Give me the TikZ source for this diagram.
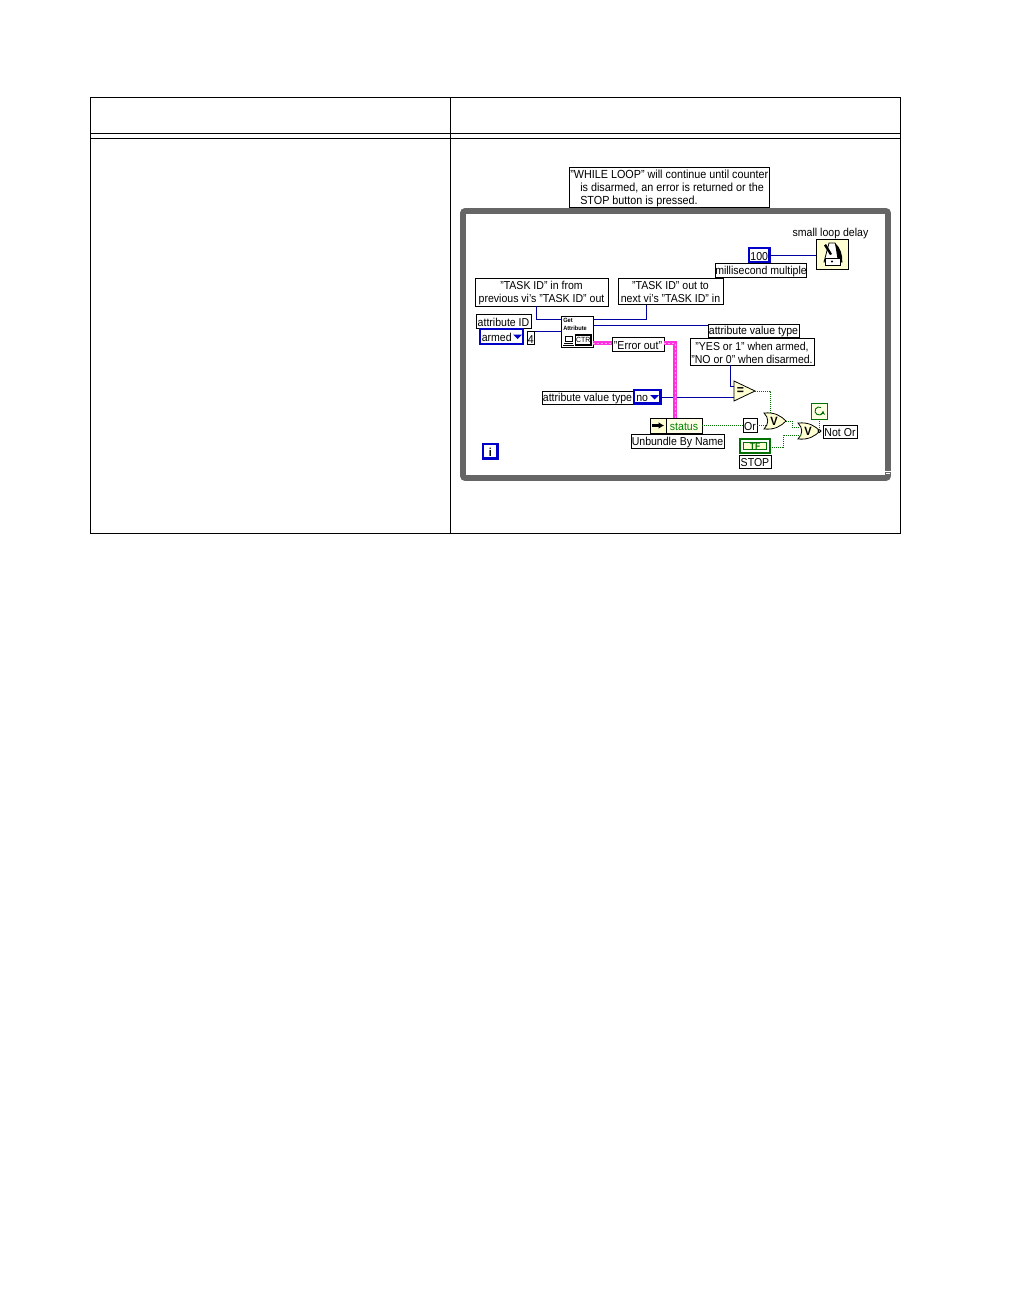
\documentclass[tikz,border=0pt]{standalone}
\usepackage{fontspec}
\setmainfont[FakeStretch=0.92]{Liberation Sans}
\usetikzlibrary{calc,arrows.meta}
\definecolor{wireblue}{HTML}{0000A0}
\definecolor{ctlblue}{HTML}{0000C8}
\definecolor{loopgray}{HTML}{666666}
\definecolor{pinkw}{HTML}{FF30E0}
\definecolor{greenw}{HTML}{007000}
\definecolor{iconyel}{HTML}{FFFFD2}
\definecolor{txtgreen}{HTML}{008000}
\tikzset{
  rule/.style={line width=0.7pt,black},
  lbl/.style={draw=black,line width=0.6pt,outer sep=0pt,fill=white,inner sep=0pt,align=center,
    font=\fontsize{8.6}{9.8}\selectfont},
  ctl/.style={lbl,draw=ctlblue,line width=1.8pt},
  freetext/.style={inner sep=0pt,font=\fontsize{8.6}{9.8}\selectfont},
  bwire/.style={draw=wireblue,line width=0.7pt},
  gwire/.style={draw=greenw,line width=0.6pt,dash pattern=on 0.75pt off 0.75pt},
  pwire/.style={draw=pinkw,line width=2.8pt},
  pcore/.style={draw=white!55!pinkw,line width=0.5pt,dash pattern=on 1.5pt off 1.5pt},
  gatefill/.style={fill=iconyel,draw=black,line width=0.6pt},
}
% name, x1, y1, x2, y2, style, text
\newcommand{\bx}[7]{\node[#6,minimum width={(#4-#2)*0.75pt},minimum height={(#5-#3)*0.75pt}] (#1) at ({(#2+#4)/2},{(#3+#5)/2}) {\rule{0pt}{7.9pt}#7};}
\newcommand{\orgate}[3]{% name, left x, centre y
  \node[inner sep=0pt,minimum width=16.5pt,minimum height=12pt] (#1) at (#2+11,#3) {};
  \draw[gatefill] (#2,#3-8) .. controls (#2+11,#3-9) and (#2+17,#3-5) .. (#2+22,#3)
    .. controls (#2+17,#3+5) and (#2+11,#3+9) .. (#2,#3+8)
    .. controls (#2+5,#3+3) and (#2+5,#3-3) .. (#2,#3-8) -- cycle;
  \node[inner sep=0pt,font=\fontsize{9}{9}\selectfont\bfseries] at (#2+10,#3) {V};
}
\begin{document}
\begin{tikzpicture}[x=0.75pt,y=-0.75pt]
\useasboundingbox[fill=white] (0,0) rectangle (1008,1296);
% table
\draw[rule] (90,97.5) -- (901,97.5);
\draw[rule] (90,133.5) -- (901,133.5);
\draw[rule] (90,138) -- (901,138);
\draw[rule] (90,533) -- (901,533);
\draw[rule] (90.5,97) -- (90.5,533.5);
\draw[rule] (450.5,97) -- (450.5,533.5);
\draw[rule] (900.5,97) -- (900.5,533.5);
% while loop frame
\draw[loopgray,line width=4.2pt,rounded corners=1.5pt] (463,211) rectangle (888,478);
\fill[white] (885,471) rectangle (891,472.2);
\draw[white,line width=0.6pt] (886,473.5) -- (890,473.5);
% note
\bx{note}{569.5}{167}{769}{207.5}{lbl,align=left,font=\fontsize{8.8}{9.8}\selectfont}{"WHILE LOOP" will continue until counter\\\hspace*{7.5pt}is disarmed, an error is returned or the\\\hspace*{7.5pt}STOP button is pressed.}
% boxes
\bx{tin}{475}{278}{608}{306}{lbl}{"TASK ID" in from\\previous vi's "TASK ID" out}
\bx{tout}{618}{278}{723}{304.5}{lbl}{"TASK ID" out to\\next vi's "TASK ID" in}
\bx{attid}{476}{314}{531}{328}{lbl}{attribute ID}
\bx{armed}{480}{329}{523}{344}{ctl}{}
\node[freetext,anchor=west] at (481.5,337.5) {armed};
\fill[ctlblue] (513,334.5) -- (522,334.5) -- (517.5,339) -- cycle;
\bx{four}{527}{331}{534.5}{344.5}{lbl}{4}
\bx{get}{561}{316}{593}{347}{lbl}{}
\node[inner sep=0pt,font=\fontsize{4.6}{5.8}\selectfont\bfseries,align=left,anchor=north west] at (563,318) {Get\\Attribute};
\draw[line width=0.6pt] (565,336) rectangle (572,341);
\draw[line width=0.6pt] (563,345) -- (574,345);
\draw[line width=0.6pt] (564,343) -- (573,343);
\draw[line width=0.8pt,fill=white] (575.5,335) rectangle (591,345);
\node[inner sep=0pt,font=\fontsize{5.6}{6}\selectfont] at (583.3,340) {CTR};
\bx{err}{612}{337}{664}{351}{lbl}{"Error out"}
\bx{ms}{716}{263}{806}{277}{lbl}{millisecond multiple}
\bx{hund}{749}{248}{769.5}{262}{ctl}{100}
\bx{metro}{816}{239}{848}{269}{lbl,fill=iconyel}{}
% metronome icon
\draw[fill=white,line width=0.6pt] (829,243) -- (835,243) -- (842,262) -- (824,262) -- cycle;
\fill (835,243) .. controls (840,247) and (843,255) .. (842,262) -- (838,262) -- cycle;
\fill (824,245.5) -- (826,244) -- (832,254) -- (830,255) -- cycle;
\draw[fill=white,line width=0.6pt] (825,258) rectangle (840,265);
\node[inner sep=0.6pt,fill=black,circle] at (832,261.5) {};
\node[freetext] (sld) at (830.5,233.5) {small loop delay};
\bx{avt}{708}{324}{799}{337.5}{lbl}{attribute value type}
\bx{yes}{690}{338}{814}{365}{lbl}{"YES or 1" when armed,\\"NO or 0" when disarmed.}
\bx{avtl}{542}{391}{633}{404}{lbl}{attribute value type}
\bx{no}{634}{390}{660.5}{403.5}{ctl}{}
\node[freetext,anchor=west] at (636,398.5) {no};
\fill[ctlblue] (650,395) -- (659,395) -- (654.5,399.5) -- cycle;
\bx{unb}{650}{418}{666}{433}{lbl,fill=iconyel}{}
\draw[line width=1.6pt,-{Latex[length=4pt,width=5pt]}] (unb.west)++(2,0) -- ++(12,0);
\bx{stat}{666}{418}{702}{433}{lbl,fill=iconyel!50!white,text=txtgreen}{status}
\bx{unbl}{631}{434}{724}{448}{lbl}{Unbundle By Name}
\bx{orl}{743}{418}{757}{432}{lbl}{Or}
\bx{tf}{740}{439}{770}{453}{lbl,draw=greenw,line width=1.8pt,fill=white}{}
\draw[greenw,line width=0.7pt,fill=iconyel] (743.5,442.5) rectangle (766.5,449.5);
\node[inner sep=0pt,text=greenw,font=\fontsize{7}{7}\selectfont\bfseries] at (755,446) {TF};
\bx{stop}{739}{455}{771}{468}{lbl}{STOP}
\bx{nor}{823}{425}{857}{438}{lbl}{Not Or}
\bx{lc}{811}{403}{827}{419}{lbl,draw=greenw,fill=iconyel!60!white}{}
\draw[greenw,line width=0.7pt,-{Stealth[length=3pt,width=3pt]}] (821,407.5) arc[start angle=-60,end angle=-360,radius=4];
\bx{iter}{483}{444}{497.5}{458.5}{ctl}{\textbf{i}}
% comparison
\node[inner sep=0pt,minimum width=10pt,minimum height=10pt] (eq) at (742,391) {};
\draw[gatefill] (734,381) -- (755,391) -- (734,401) -- cycle;
\node[inner sep=0pt,font=\fontsize{10}{10}\selectfont\bfseries] at (740.5,391) {=};
\coordinate (eqout) at (755,391);
\orgate{ga}{764}{421}
\orgate{gb}{798}{431}
\coordinate (gaout) at (786,421);
\draw[gatefill,fill=white] (819.5,431) circle[radius=1.5];
\coordinate (gbout) at (821,431);
% wires
\draw[bwire] ($(tin.south)+(-5.5,0)$) |- (get.west |- 0,319);
\draw[bwire] ($(tout.south)+(-24.5,0)$) |- (get.east |- 0,319);
\draw[bwire] (get.east |- 0,325) -- (avt.west |- 0,325);
\draw[bwire] (four.east |- 0,331) -- (get.west |- 0,331);
\draw[bwire] (hund.east) -- (metro.west |- hund.east);
\draw[bwire] (yes.south -| 730,0) |- (734,386);
\draw[bwire] (no.east |- 0,397) -- (734,397);
\draw[pwire] (get.east |- 0,343) -- (err.west |- 0,343);
\draw[pwire] (err.east |- 0,343) -| (675,418);
\draw[pcore] (get.east |- 0,343) -- (err.west |- 0,343);
\draw[pcore] (err.east |- 0,343) -| (675,418);
\draw[gwire] (stat.east |- 0,425) -- (orl.west |- 0,425);
\draw[gwire] (orl.east |- 0,425) -- (766,425);
\draw[gwire] (eqout) -| (770,413.5);
\draw[gwire] (gaout) -- (792,421) -- (792,427) -- (800,427);
\draw[gwire] (tf.east |- 0,447) -- (783,447) -- (783,435) -- (801,435);
\draw[gwire] (lc.south) -- (819,429.5);
\end{tikzpicture}
\end{document}
